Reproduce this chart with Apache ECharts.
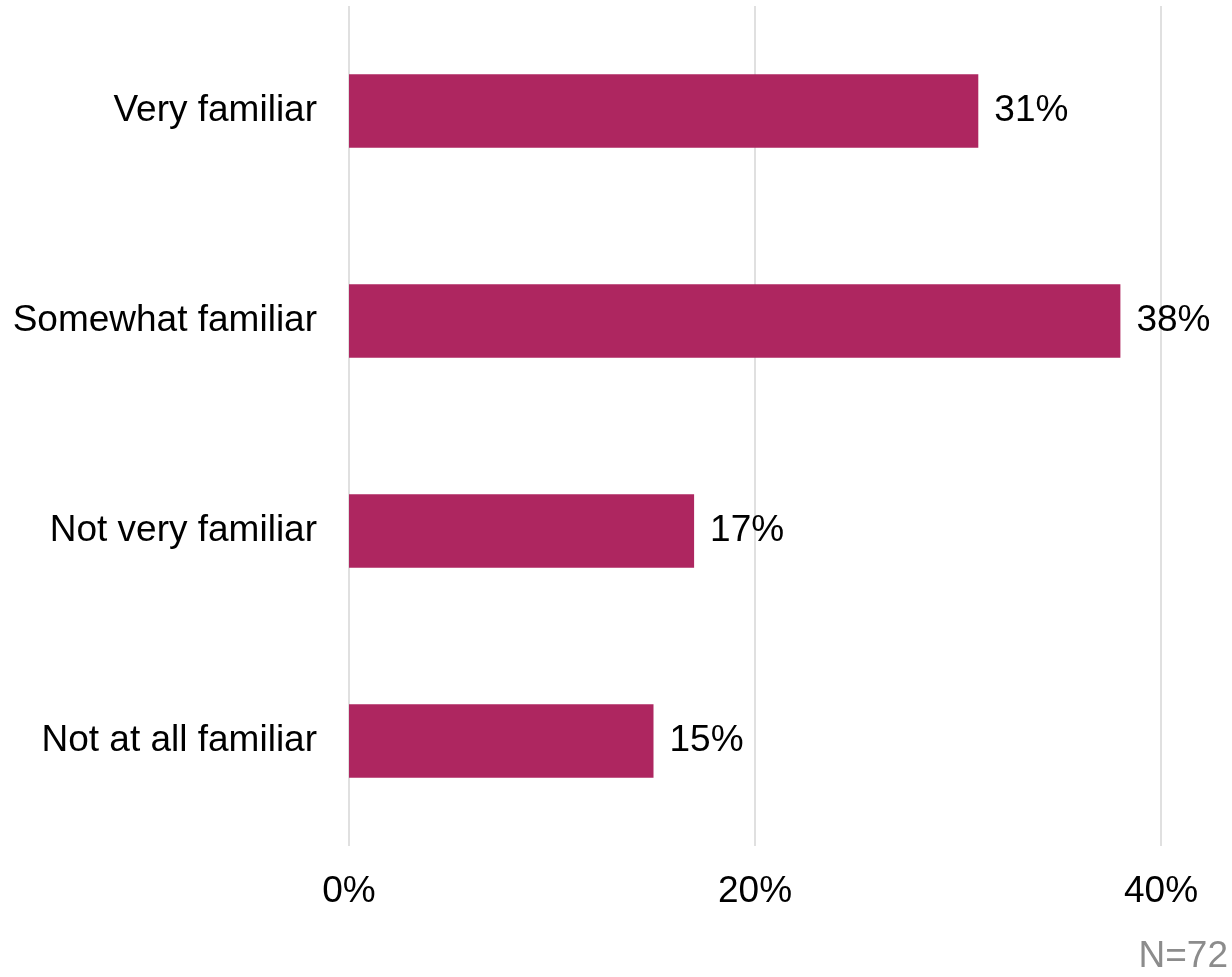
<!DOCTYPE html>
<html>
<head>
<meta charset="utf-8">
<script src="https://cdn.jsdelivr.net/npm/echarts@6/dist/echarts.min.js"></script>
<style>
  html, body { margin: 0; padding: 0; background: #ffffff; }
  #chart { width: 1232px; height: 977px; }
</style>
</head>
<body>
<div id="chart"></div>
<script>
// Familiarity levels and share of respondents (percent)
const categories = ['Very familiar', 'Somewhat familiar', 'Not very familiar', 'Not at all familiar'];
const shares = [31, 38, 17, 15];
const xTicks = [0, 20, 40];
const sampleNote = 'N=72';

const FONT = '"Liberation Sans", Arial, sans-serif';
const chart = echarts.init(document.getElementById('chart'), null, { renderer: 'canvas' });

chart.setOption({
  animation: false,
  backgroundColor: '#ffffff',
  grid: { left: 349, right: 71, top: 6, bottom: 131, containLabel: false },
  xAxis: {
    type: 'value',
    min: xTicks[0],
    max: xTicks[xTicks.length - 1],
    interval: xTicks[1] - xTicks[0],
    axisLine: { show: false },
    axisTick: { show: false },
    splitLine: { show: true, lineStyle: { color: '#d6d6d6', width: 1.5 } },
    axisLabel: {
      formatter: v => v + '%',
      fontFamily: FONT,
      fontSize: 37,
      color: '#000000',
      margin: 27
    }
  },
  yAxis: {
    type: 'category',
    data: categories,
    inverse: true,
    axisLine: { show: false },
    axisTick: { show: false },
    splitLine: { show: false },
    axisLabel: {
      fontFamily: FONT,
      fontSize: 37,
      color: '#000000',
      margin: 32,
      padding: [6, 0, 0, 0]
    }
  },
  series: [{
    type: 'bar',
    data: shares,
    barWidth: '35%',
    itemStyle: { color: '#ae2660' },
    label: {
      show: true,
      position: 'right',
      distance: 16,
      padding: [6, 0, 0, 0],
      formatter: p => p.value + '%',
      fontFamily: FONT,
      fontSize: 37,
      color: '#000000'
    }
  }],
  graphic: [{
    type: 'text',
    right: 4,
    bottom: 2,
    style: {
      text: sampleNote,
      fontFamily: FONT,
      fontSize: 37,
      fill: '#8c8c8c'
    }
  }]
});
</script>
</body>
</html>
